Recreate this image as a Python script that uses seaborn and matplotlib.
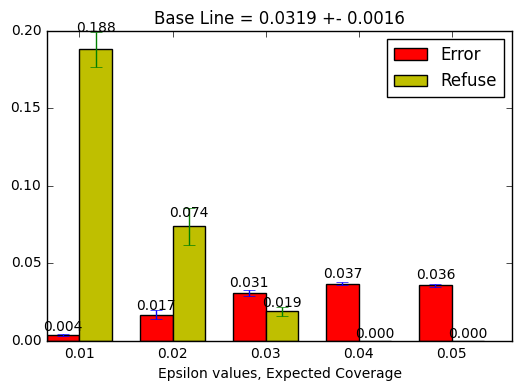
import matplotlib
matplotlib.use("Agg")
import matplotlib.pyplot as plt
import seaborn as sns
import pandas as pd
import numpy as np
from matplotlib.patches import Patch

plt.style.use("classic")

categories = ["0.01", "0.02", "0.03", "0.04", "0.05"]
error_vals = [0.004, 0.017, 0.031, 0.037, 0.036]
error_err = [0.0005, 0.0029, 0.0018, 0.0012, 0.0010]
refuse_vals = [0.188, 0.074, 0.019, 0.000, 0.000]
refuse_err = [0.0113, 0.0118, 0.0032, 0.0, 0.0]
series = ["Error", "Refuse"]
colors = ["red", (0.75, 0.75, 0.0)]
err_colors = ["blue", "green"]

df = pd.DataFrame({
    "eps": categories * 2,
    "value": error_vals + refuse_vals,
    "kind": [series[0]] * len(categories) + [series[1]] * len(categories),
})

fig = plt.figure(figsize=(5.21, 3.91), dpi=100)
ax = fig.add_axes([0.09, 0.128, 0.893, 0.793])

sns.barplot(data=df, x="eps", y="value", hue="kind", hue_order=series,
            palette=colors, saturation=1, width=0.7, errorbar=None,
            edgecolor="black", linewidth=1, ax=ax, legend=False)

w = 0.35
x = np.arange(len(categories))
for k, (vals, errs) in enumerate([(error_vals, error_err), (refuse_vals, refuse_err)]):
    xs = x - w / 2 + k * w
    ax.errorbar(xs, vals, yerr=errs, fmt="none", ecolor=err_colors[k],
                capsize=4, elinewidth=1)
    for xi, v in zip(xs, vals):
        ax.text(xi, 1.05 * v, "%.3f" % v, ha="center", va="bottom", fontsize=10)

handles = [Patch(facecolor=c, edgecolor="black") for c in colors]
ax.legend(handles, series, loc="upper right", fontsize=12)

ax.set_xlim(-0.35, 4.65)
ax.set_ylim(0, 0.20)
ax.set_yticks([0.0, 0.05, 0.10, 0.15, 0.20])
ax.tick_params(labelsize=10)
ax.set_xlabel("Epsilon values, Expected Coverage", fontsize=10)
ax.set_ylabel("")
ax.set_title("Base Line = 0.0319 +- 0.0016", fontsize=12)

fig.savefig("out.png", dpi=100)
